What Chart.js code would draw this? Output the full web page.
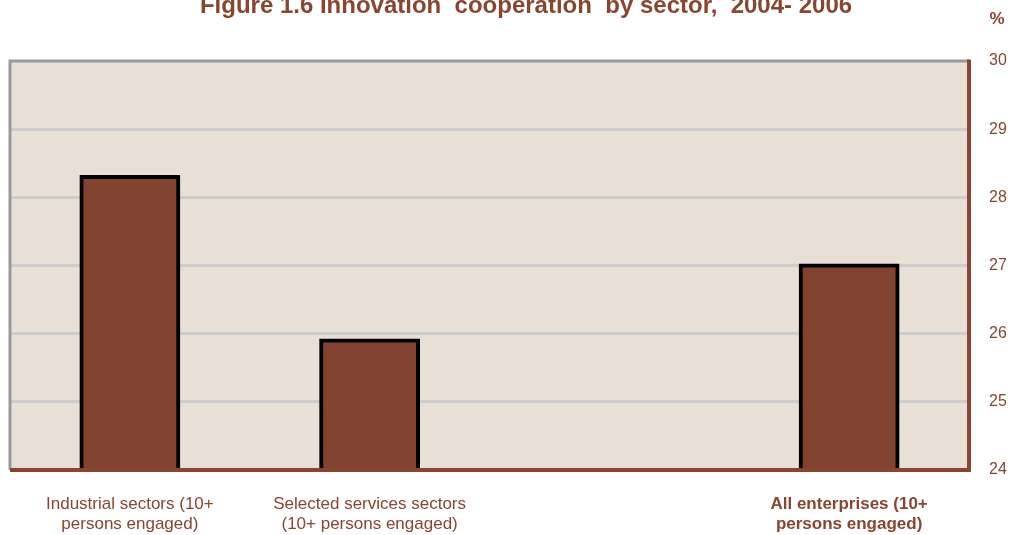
<!DOCTYPE html>
<html>
<head>
<meta charset="utf-8">
<script src="https://cdn.jsdelivr.net/npm/chart.js@4/dist/chart.umd.min.js"></script>
<style>
  html, body { margin: 0; padding: 0; background: #ffffff; }
  #wrap { position: relative; width: 1013px; height: 535px; }
</style>
</head>
<body>
<div id="wrap"><canvas id="myChart"></canvas></div>
<script>
// sectors, the empty slot keeps the gap before the total
const sectors = [
  ["Industrial sectors (10+", "persons engaged)"],
  ["Selected services sectors", "(10+ persons engaged)"],
  "",
  ["All enterprises (10+", "persons engaged)"]
];
const shares = [28.3, 25.9, null, 27.0];
const yTicks = [24, 25, 26, 27, 28, 29, 30];

const brown = "#88452f";
const barFill = "#824430";
const plotBg = "#e8dfd6";
const fontFamily = "'Liberation Sans', Arial, sans-serif";

// plot background, frame, title and unit label
const framePlugin = {
  id: "frame",
  beforeDraw(chart) {
    const a = chart.chartArea, ctx = chart.ctx;
    ctx.save();
    ctx.fillStyle = plotBg;
    ctx.fillRect(a.left, a.top, a.right - a.left, a.bottom - a.top);
    ctx.restore();
  },
  afterDatasetsDraw(chart) {
    const a = chart.chartArea, ctx = chart.ctx;
    ctx.save();
    ctx.lineWidth = 3;
    ctx.strokeStyle = "#999999";
    ctx.beginPath();
    ctx.moveTo(a.left, a.bottom);
    ctx.lineTo(a.left, a.top);
    ctx.lineTo(a.right, a.top);
    ctx.stroke();
    ctx.lineWidth = 4;
    ctx.strokeStyle = brown;
    ctx.beginPath();
    ctx.moveTo(a.right, a.top - 1.5);
    ctx.lineTo(a.right, a.bottom);
    ctx.lineTo(a.left, a.bottom);
    ctx.stroke();

    ctx.fillStyle = brown;
    ctx.textAlign = "center";
    ctx.textBaseline = "alphabetic";
    ctx.font = "bold 24px " + fontFamily;
    ctx.fillText("Figure 1.6 Innovation  cooperation  by sector,  2004- 2006", 526, 13);
    ctx.font = "bold 17px " + fontFamily;
    ctx.fillText("%", 997, 24);
    ctx.restore();
  }
};

const ctx = document.getElementById("myChart").getContext("2d");
const myChart = new Chart(ctx, {
  type: "bar",
  data: {
    labels: sectors,
    datasets: [{
      data: shares,
      backgroundColor: barFill,
      borderColor: "#000000",
      borderWidth: 4,
      borderSkipped: "bottom",
      // outline sits centred on the bar edge
      inflateAmount: 2,
      barPercentage: 0.404,
      categoryPercentage: 1.0
    }]
  },
  options: {
    responsive: true,
    maintainAspectRatio: false,
    animation: false,
    layout: { padding: { top: 61, left: 10, right: 0, bottom: 0 } },
    plugins: {
      legend: { display: false },
      title: { display: false },
      tooltip: { enabled: false }
    },
    scales: {
      x: {
        grid: { display: false, drawTicks: false },
        border: { display: false },
        ticks: {
          color: brown,
          padding: 25,
          maxRotation: 0,
          autoSkip: false,
          font: (c) => ({
            family: fontFamily,
            size: 17,
            weight: c.index === 3 ? "bold" : "normal",
            lineHeight: 1.15
          })
        },
        afterFit(scale) { scale.height = 65; }
      },
      y: {
        position: "right",
        min: yTicks[0],
        max: yTicks[yTicks.length - 1],
        afterBuildTicks(scale) { scale.ticks = yTicks.map(v => ({ value: v })); },
        grid: {
          drawTicks: false,
          lineWidth: 3,
          color: (c) => (c.tick && (c.tick.value === 24 || c.tick.value === 30)) ? "rgba(0,0,0,0)" : "#cccccc"
        },
        border: { display: false },
        ticks: {
          color: brown,
          padding: 20,
          font: { family: fontFamily, size: 16 }
        },
        afterFit(scale) { scale.width = 44; }
      }
    }
  },
  plugins: [framePlugin]
});
</script>
</body>
</html>
